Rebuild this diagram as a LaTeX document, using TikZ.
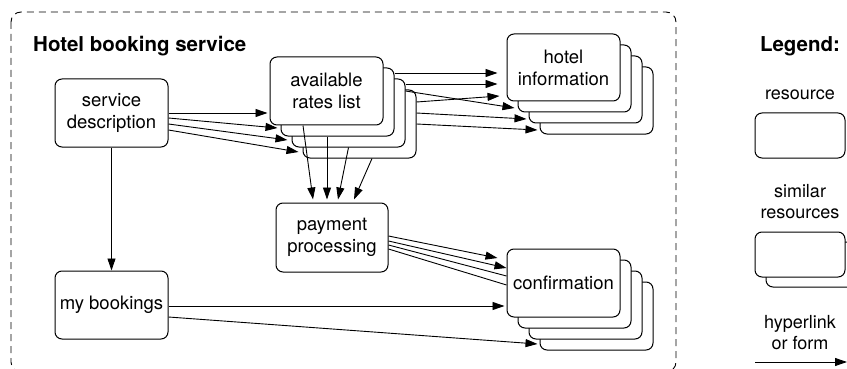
\documentclass[tikz,border=0pt]{standalone}
\usepackage{fontspec}
\setmainfont{TeX Gyre Heros}
\usetikzlibrary{arrows.meta,calc}

\tikzset{
	res/.style={draw=black, line width=1pt, fill=white, rounded corners=7pt,
		minimum width=113pt, minimum height=68pt, inner sep=0pt, align=center,
		font=\fontsize{18.5}{22}\selectfont},
	keybox/.style={res, minimum width=90pt, minimum height=45pt},
	link/.style={draw=black, line width=0.9pt, -{Triangle[length=12pt,width=8pt]}},
	plainlink/.style={draw=black, line width=0.9pt},
	heading/.style={inner sep=0pt, font=\fontsize{20.5}{24}\selectfont\bfseries},
	keytext/.style={inner sep=0pt, align=center, font=\fontsize{18}{21}\selectfont}
}

\begin{document}
\begin{tikzpicture}[x=1pt, y=-1pt]
	
	\useasboundingbox (0,0) rectangle (847,369);
	
	% service boundary
	\draw [black, line width=0.9pt, dash pattern=on 7pt off 5pt, rounded corners=10pt]
	(11,12) rectangle (676,372);
	\node [heading, anchor=base west] (title) at (33,52) {Hotel booking service};
	
	% resources
	\node [res] (sd) at (111.5,113) {service\\description};
	\node [res] (mb) at (111.5,305) {my bookings};
	\node [res, minimum width=112pt, minimum height=69pt] (pay) at (332,237.5) {payment\\processing};
	
	\foreach \k in {3,2,1}
	\node [res] (rates-\k) at (326.5+11*\k, 91+11*\k) {};
	\node [res] (rates-0) at (326.5,91) {available\\rates list};
	
	\foreach \k in {3,2,1}
	\node [res, minimum height=67pt] (hotel-\k) at (563.5+11*\k, 67.5+11*\k) {};
	\node [res, minimum height=67pt] (hotel-0) at (563.5,67.5) {hotel\\information};
	
	\foreach \k in {3,2,1}
	\node [res] (conf-\k) at (563.5+11*\k, 283+11*\k) {};
	\node [res] (conf-0) at (563.5,283) {confirmation};
	
	% service description
	\draw [link] (sd.south) -- (mb.north);
	\draw [link] (sd.east) -- ($(rates-0.west)+(-2,22)$);
	\draw [link] ($(sd.east)+(0,5)$) -- ($(rates-1.west)+(-3,26)$);
	\draw [link] ($(sd.east)+(0,11)$) -- ($(rates-2.west)+(-4,27)$);
	\draw [link] ($(sd.east)+(0,17)$) -- ($(rates-3.west)+(-4,28)$);
	
	% rates list
	\draw [link] ($(rates-1.east)+(0,-29)$) -- ($(hotel-0.west)+(-9,5.5)$);
	\draw [link] ($(rates-2.east)+(0,-29)$) -- ($(hotel-0.west)+(-9,16.5)$);
	\draw [link] ($(rates-3.east)+(0,-22)$) -- ($(hotel-0.west)+(-7,28.5)$);
	\draw [link] ($(rates-2.east)+(0,-22)$) -- ($(hotel-1.west)+(-3,29.5)$);
	\draw [link] ($(rates-3.east)+(0,-11)$) -- ($(hotel-2.west)+(-2,29.5)$);
	\draw [link] (rates-3.east) -- ($(hotel-3.west)+(-2,29.5)$);
	
	\draw [link] ($(rates-0.south)+(-23.5,0)$) -- ($(pay.north)+(-19,-3)$);
	\draw [link] ($(rates-1.south)+(-10.5,0)$) -- ($(pay.north)+(-5,-3)$);
	\draw [link] (rates-2.south) -- ($(pay.north)+(6,-3)$);
	\draw [link] ($(rates-3.south)+(12.5,0)$) -- ($(pay.north)+(22,-3)$);
	
	% payment
	\draw [link] ($(pay.east)+(0,-1.5)$) -- ($(conf-0.west)+(-9,-25)$);
	\draw [link] ($(pay.east)+(0,3.5)$) -- ($(conf-0.west)+(0,-15)$);
	\draw [plainlink] ($(pay.east)+(0,7.5)$) -- ($(conf-0.west)+(0,-7)$);
	\draw [plainlink] ($(pay.east)+(0,11.5)$) -- ($(conf-0.west)+(0,2)$);
	
	% my bookings
	\draw [link] ($(mb.east)+(0,1)$) -- ($(conf-0.west)+(-2,23)$);
	\draw [link] ($(mb.east)+(0,12)$) -- ($(conf-3.west)+(-2,28)$);
	
	% legend
	\node [heading, anchor=base] (legend) at (800,52) {Legend:};
	\node [keytext] (res-text) at (800,95) {resource};
	\node [keybox] (res-key) at (800,135.5) {};
	\node [keytext] (sim-text) at (800,202) {similar\\resources};
	\node [keybox] (sim-key-1) at (811,264.5) {};
	\node [keybox] (sim-key) at (800,254.5) {};
	\node [keytext] (link-text) at (800,332.5) {hyperlink\\or form};
	\coordinate (link-a) at (755,362);
	\coordinate (link-b) at (847,362);
	\draw [link] (link-a) -- (link-b);
	
\end{tikzpicture}
\end{document}
